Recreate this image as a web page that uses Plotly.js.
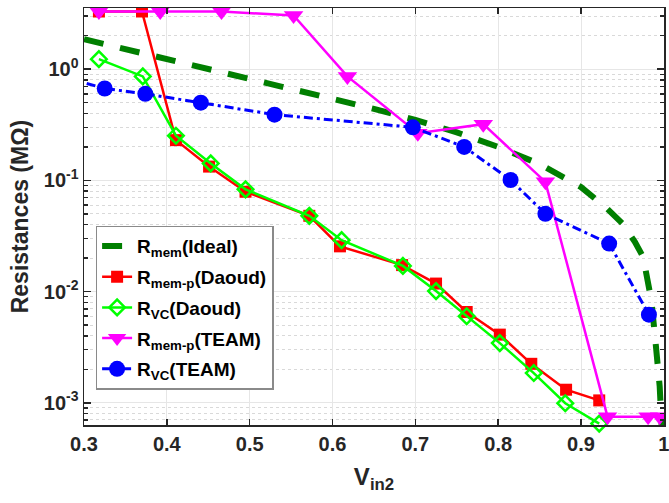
<!DOCTYPE html>
<html>
<head>
<meta charset="utf-8">
<script src="https://cdn.plot.ly/plotly-3.0.1.min.js"></script>
<style>html,body{margin:0;padding:0;background:#fff;}#chart{width:669px;height:503px;}</style>
</head>
<body>
<div id="chart"></div>
<script>
// R_mem (Ideal)
const idealV = [0.3, 0.4, 0.5, 0.6, 0.65, 0.7, 0.75, 0.8, 0.85, 0.9, 0.93, 0.95, 0.965, 0.975, 0.985, 0.99, 0.995, 0.998];
const idealR = [1.86, 1.24, 0.82, 0.55, 0.44, 0.35, 0.27, 0.20, 0.14, 0.087, 0.057, 0.041, 0.028, 0.0205, 0.0083, 0.0035, 0.0014, 0.0005];
// R_mem-p (Daoud)
const memPDaoudV = [0.318, 0.370, 0.411, 0.451, 0.495, 0.572, 0.609, 0.684, 0.725, 0.762, 0.802, 0.840, 0.882, 0.922];
const memPDaoudR = [3.3, 3.3, 0.23, 0.133, 0.079, 0.048, 0.0255, 0.0173, 0.0118, 0.00655, 0.0041, 0.00224, 0.00131, 0.00105];
// R_VC (Daoud)
const vcDaoudV = [0.318, 0.371, 0.411, 0.453, 0.495, 0.572, 0.611, 0.685, 0.725, 0.762, 0.802, 0.843, 0.881, 0.922];
const vcDaoudR = [1.23, 0.86, 0.252, 0.142, 0.083, 0.048, 0.029, 0.017, 0.0101, 0.006, 0.00344, 0.00185, 0.00099, 0.00065];
// R_mem-p (TEAM)
const memPTeamV = [0.318, 0.392, 0.466, 0.553, 0.618, 0.703, 0.782, 0.857, 0.932, 0.981, 0.995];
const memPTeamR = [3.3, 3.3, 3.3, 3.04, 0.86, 0.265, 0.32, 0.097, 0.00075, 0.00075, 0.00075];
// R_VC (TEAM)
const vcTeamV = [0.28, 0.325, 0.374, 0.441, 0.530, 0.697, 0.759, 0.815, 0.857, 0.934, 0.982];
const vcTeamR = [0.83, 0.67, 0.60, 0.50, 0.39, 0.30, 0.20, 0.1007, 0.05, 0.027, 0.0062];

const xTicks = [0.3, 0.4, 0.5, 0.6, 0.7, 0.8, 0.9, 1];
const xTickText = ['0.3', '0.4', '0.5', '0.6', '0.7', '0.8', '0.9', '1'];
const yTicks = [0.001, 0.01, 0.1, 1];
const yTickText = ['10<sup>-3</sup>', '10<sup>-2</sup>', '10<sup>-1</sup>', '10<sup>0</sup>'];
const yMinor = [];
[0.001, 0.01, 0.1, 1].forEach(d => { for (let k = 2; k <= 9; k++) yMinor.push(d * k); });
yMinor.push(0.0007, 0.0008, 0.0009);

const FONT = 'Liberation Sans, Arial, sans-serif';
const TXT = '#262626';

const traces = [
  {x: idealV, y: idealR, mode: 'lines', name: 'R<sub>mem</sub>(Ideal)', legendgroup: 'g1',
   line: {color: '#007F00', width: 6, dash: '20px,17px'}},
  {x: memPDaoudV, y: memPDaoudR, mode: 'lines+markers', name: 'R<sub>mem-p</sub>(Daoud)', legendgroup: 'g2',
   line: {color: '#FF0000', width: 2.5},
   marker: {symbol: 'square', size: 12, color: '#FF0000'}},
  {x: vcDaoudV, y: vcDaoudR, mode: 'lines+markers', name: 'R<sub>VC</sub>(Daoud)', legendgroup: 'g3',
   line: {color: '#00FF00', width: 2.5}, cliponaxis: false,
   marker: {symbol: 'diamond-open', size: 12, color: '#00FF00', line: {width: 2.5, color: '#00FF00'}}},
  {x: memPTeamV, y: memPTeamR, mode: 'lines+markers', name: 'R<sub>mem-p</sub>(TEAM)', legendgroup: 'g4',
   line: {color: '#FF00FF', width: 2.5},
   marker: {symbol: 'triangle-down', size: 17, color: '#FF00FF'}},
  {x: vcTeamV, y: vcTeamR, mode: 'lines+markers', name: 'R<sub>VC</sub>(TEAM)', legendgroup: 'g5',
   line: {color: '#0000FF', width: 3, dash: '9px,4px,3px,4px'},
   marker: {symbol: 'circle', size: 16, color: '#0000FF'}}
];

const layout = {
  width: 669, height: 503,
  margin: {l: 84, r: 5, t: 8, b: 78},
  paper_bgcolor: '#fff', plot_bgcolor: '#fff',
  font: {family: FONT, color: TXT, size: 20, weight: 'bold'},
  showlegend: true,
  legend: {x: 0.02, y: 0.478, xanchor: 'left', yanchor: 'top',
    bgcolor: '#fff', bordercolor: '#8a8a8a', borderwidth: 1.5,
    font: {family: FONT, size: 19, color: '#000', weight: 'bold'},
    itemwidth: 30, tracegroupgap: 3},
  xaxis: {
    range: [0.3, 1.0002], tickmode: 'array', tickvals: xTicks, ticktext: xTickText,
    ticks: 'inside', ticklen: 6, tickwidth: 1.5, tickcolor: TXT, ticklabeloverflow: 'allow',
    showline: true, linecolor: TXT, linewidth: 1.5, mirror: 'ticks',
    showgrid: true, gridcolor: '#e6e6e6', gridwidth: 1, zeroline: false,
    tickfont: {family: FONT, size: 20, color: TXT, weight: 'bold'},
    title: {text: 'V<sub>in2</sub>', font: {family: FONT, size: 24, color: TXT, weight: 'bold'}, standoff: 14}
  },
  yaxis: {
    type: 'log', range: [-3.2, 0.55], tickmode: 'array', tickvals: yTicks, ticktext: yTickText,
    ticks: 'inside', ticklen: 7, tickwidth: 1.5, tickcolor: TXT,
    showline: true, linecolor: TXT, linewidth: 1.5, mirror: 'ticks',
    showgrid: true, gridcolor: '#e6e6e6', gridwidth: 1, zeroline: false,
    minor: {tickmode: 'array', tickvals: yMinor, ticks: 'inside', ticklen: 4, tickcolor: TXT,
            showgrid: true, gridcolor: '#d9d9d9', griddash: 'dot', gridwidth: 1},
    tickfont: {family: FONT, size: 20, color: TXT, weight: 'bold'},
    title: {text: 'Resistances (M\u03A9)', font: {family: FONT, size: 23, color: TXT, weight: 'bold'}, standoff: 8}
  }
};

Plotly.newPlot('chart', traces, layout, {displayModeBar: false, staticPlot: true});
</script>
</body>
</html>
